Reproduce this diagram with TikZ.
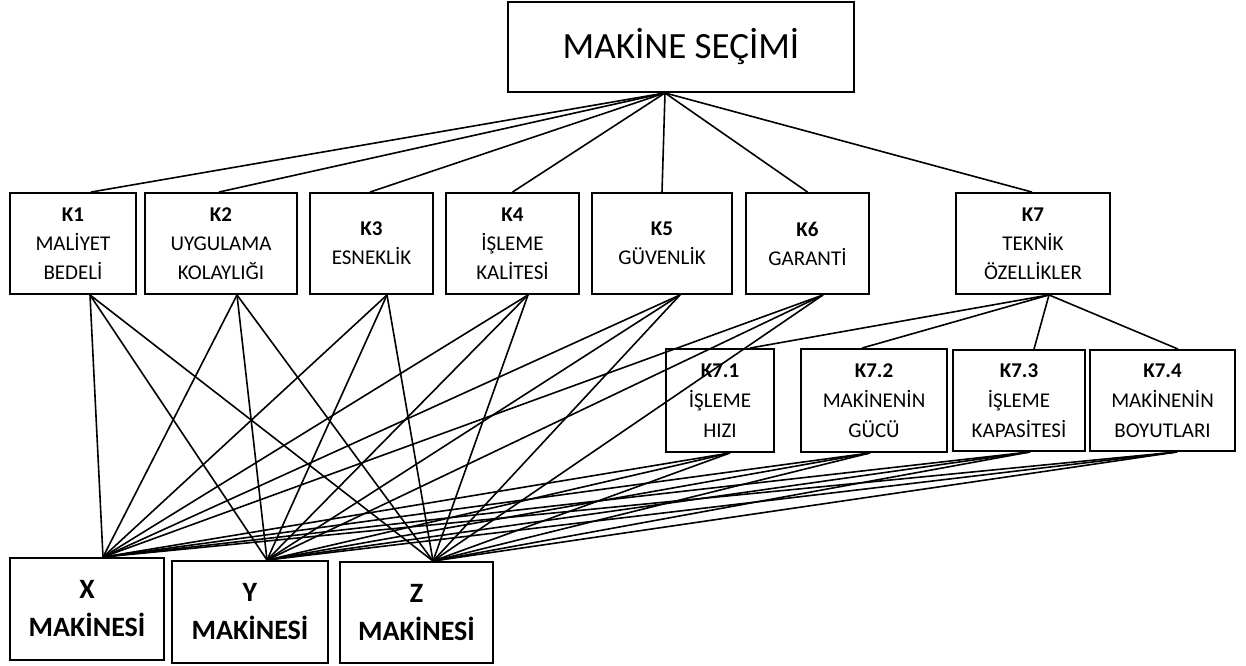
\documentclass[tikz,border=0pt]{standalone}
\usepackage{fontspec}
\setmainfont{Carlito}
\begin{document}
\begin{tikzpicture}[x=1pt,y=-1pt,
  box/.style={draw, line width=1.9pt, inner sep=0pt, align=center, font=\fontsize{21}{29}\selectfont},
  subbox/.style={box, font=\fontsize{21}{30}\selectfont},
  machbox/.style={draw, line width=1.9pt, inner sep=0pt, align=center, font=\fontsize{28}{38}\selectfont\bfseries},
  conn/.style={line width=1.6pt}]
\useasboundingbox (0,0) rectangle (1246,665);
% top
\node[draw, line width=1.9pt, minimum width=346pt, minimum height=90pt, inner sep=0pt, font=\fontsize{37}{40}\selectfont] (top) at (681,47) {MAKİNE SEÇİMİ};
% criteria
\node[box, minimum width=126pt, minimum height=101pt] (K1) at (73,243.5) {\textbf{K1}\\MALİYET\\BEDELİ};
\node[box, minimum width=152pt, minimum height=101pt] (K2) at (221,243.5) {\textbf{K2}\\UYGULAMA\\KOLAYLIĞI};
\node[box, minimum width=123pt, minimum height=101pt] (K3) at (371.5,243.5) {\textbf{K3}\\ESNEKLİK};
\node[box, minimum width=133pt, minimum height=101pt] (K4) at (512.5,243.5) {\textbf{K4}\\İŞLEME\\KALİTESİ};
\node[box, minimum width=140pt, minimum height=101pt] (K5) at (662,243.5) {\textbf{K5}\\GÜVENLİK};
\node[box, minimum width=123pt, minimum height=101pt] (K6) at (807.5,243.5) {\textbf{K6}\\GARANTİ};
\node[box, minimum width=154pt, minimum height=101pt] (K7) at (1033,243.5) {\textbf{K7}\\TEKNİK\\ÖZELLİKLER};
% sub-criteria
\node[subbox, minimum width=108pt, minimum height=103pt] (K71) at (720,400.5) {\textbf{K7.1}\\İŞLEME\\HIZI};
\node[subbox, minimum width=146pt, minimum height=103pt] (K72) at (874,400.5) {\textbf{K7.2}\\MAKİNENİN\\GÜCÜ};
\node[subbox, minimum width=132pt, minimum height=101pt] (K73) at (1019,400.5) {\textbf{K7.3}\\İŞLEME\\KAPASİTESİ};
\node[subbox, minimum width=145pt, minimum height=101pt] (K74) at (1162.5,400.5) {\textbf{K7.4}\\MAKİNENİN\\BOYUTLARI};
% machines
\node[machbox, minimum width=154pt, minimum height=102pt] (X) at (87,609) {X\\MAKİNESİ};
\node[machbox, minimum width=156pt, minimum height=102pt] (Y) at (250,612) {Y\\MAKİNESİ};
\node[machbox, minimum width=153pt, minimum height=101pt] (Z) at (416.5,612.5) {Z\\MAKİNESİ};
% top connectors
\foreach \k/\dx in {K1/18,K2/-2,K3/-1.5,K4/0,K5/0,K6/0,K7/-1}
  \draw[conn] ([xshift=-16pt]top.south) -- ([xshift=\dx pt]\k.north);
% K7 to sub-criteria
\foreach \k/\dx in {K71/30,K72/-12,K73/15,K74/15.5}
  \draw[conn] ([xshift=16pt]K7.south) -- ([xshift=\dx pt]\k.north);
% criteria to machines
\foreach \k/\dx in {K1/17,K2/16,K3/15.5,K4/15.5,K5/18,K6/15.5,K71/10,K72/-4,K73/11,K74/14.5}
  \foreach \m/\mx in {X/16,Y/17,Z/16.5}
    \draw[conn] ([xshift=\dx pt]\k.south) -- ([xshift=\mx pt]\m.north);
\end{tikzpicture}
\end{document}
